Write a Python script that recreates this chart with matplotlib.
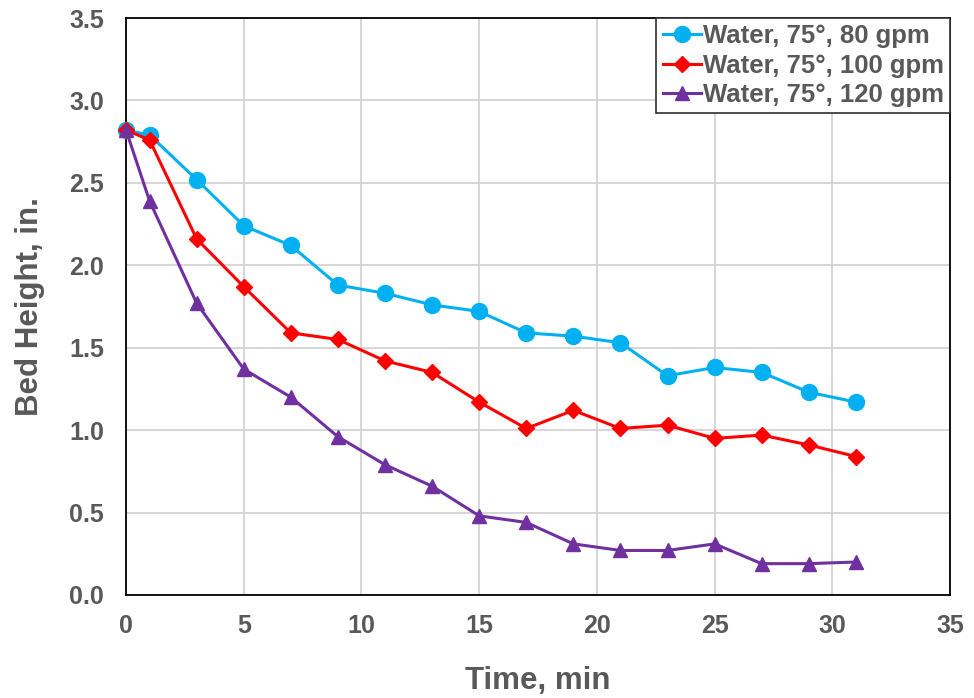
import matplotlib
matplotlib.use("Agg")
import matplotlib.pyplot as plt

plt.rcParams['font.family'] = ['Liberation Sans', 'DejaVu Sans']
plt.rcParams['font.weight'] = 'bold'

# Time points (min)
time_min = [0, 1, 3, 5, 7, 9, 11, 13, 15, 17, 19, 21, 23, 25, 27, 29, 31]

# Bed height (in.) for each flow rate
height_80 = [2.82, 2.79, 2.52, 2.24, 2.12, 1.88, 1.83, 1.76, 1.72, 1.59, 1.57, 1.53,
             1.33, 1.38, 1.35, 1.23, 1.17]
height_100 = [2.82, 2.76, 2.16, 1.87, 1.59, 1.55, 1.42, 1.35, 1.17, 1.01, 1.12, 1.01,
              1.03, 0.95, 0.97, 0.91, 0.84]
height_120 = [2.82, 2.39, 1.77, 1.37, 1.20, 0.96, 0.79, 0.66, 0.48, 0.44, 0.31, 0.27,
              0.27, 0.31, 0.19, 0.19, 0.20]

labels = ["Water, 75°, 80 gpm", "Water, 75°, 100 gpm", "Water, 75°, 120 gpm"]

text_grey = "#595959"

fig = plt.figure(figsize=(9.74, 6.98), dpi=100)
ax = fig.add_axes([0.1294, 0.1476, 0.846, 0.8266])

ax.plot(time_min, height_80, color="#00b0f0", marker="o", markersize=11.5,
        linewidth=2.2, label=labels[0], zorder=3, clip_on=False)
ax.plot(time_min, height_100, color="#ff0000", marker="D", markersize=8,
        linewidth=2.2, label=labels[1], zorder=4, clip_on=False)
ax.plot(time_min, height_120, color="#7030a0", marker="^", markersize=10,
        linewidth=2.2, label=labels[2], zorder=5, clip_on=False)

ax.set_xlim(0, 35)
ax.set_ylim(0, 3.5)
ax.set_xticks(range(0, 36, 5))
ax.set_yticks([0.0, 0.5, 1.0, 1.5, 2.0, 2.5, 3.0, 3.5])
ax.set_yticklabels([f"{v:.1f}" for v in ax.get_yticks()])

ax.grid(True, color="#d0d0d0", linewidth=1.2)
ax.set_axisbelow(True)
for side in ax.spines.values():
    side.set_color("black")
    side.set_linewidth(1.3)

ax.tick_params(length=0, labelsize=18, labelcolor=text_grey)
ax.tick_params(axis="x", pad=14)
ax.tick_params(axis="y", pad=16)
for lbl in ax.get_xticklabels() + ax.get_yticklabels():
    lbl.set_fontweight("bold")

ax.set_xlabel("Time, min", fontsize=22.5, fontweight="bold", color=text_grey, labelpad=20)
ax.set_ylabel("Bed Height, in.", fontsize=22.5, fontweight="bold", color=text_grey, labelpad=17)

leg = ax.legend(loc="upper right", bbox_to_anchor=(1.0, 1.0), fontsize=18.5,
                handlelength=1.5, handletextpad=0.05, borderpad=0.25,
                labelspacing=0.2, fancybox=False, framealpha=1,
                borderaxespad=0.0)
leg.get_frame().set_edgecolor("#303030")
leg.get_frame().set_linewidth(1.2)
leg.set_zorder(10)
for t in leg.get_texts():
    t.set_color(text_grey)
    t.set_fontweight("bold")

fig.savefig("out.png", dpi=100)
